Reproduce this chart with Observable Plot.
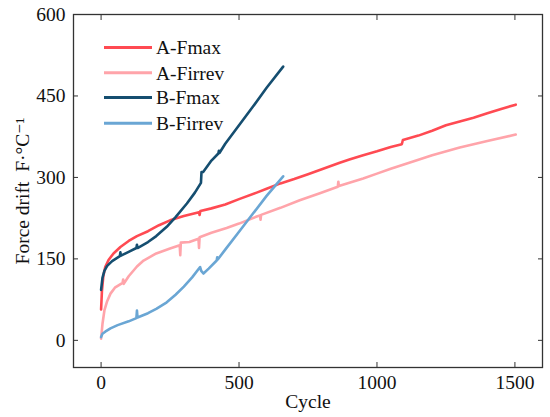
<!DOCTYPE html>
<html>
<head>
<meta charset="utf-8">
<script src="https://cdn.jsdelivr.net/npm/d3@7"></script>
<script src="https://cdn.jsdelivr.net/npm/@observablehq/plot@0.6"></script>
<style>
  html, body { margin: 0; padding: 0; background: #fff; }
  #chart { position: relative; width: 550px; height: 417px; }
  #chart svg text { font-family: "Liberation Serif", Tinos, "Times New Roman", Times, "DejaVu Serif", serif; }
</style>
</head>
<body>
<div id="chart"></div>
<script>
// ---- Data ----
const seriesNames = ["A-Fmax", "A-Firrev", "B-Fmax", "B-Firrev"];
const seriesColors = ["#ff4a52", "#ffa4aa", "#154e70", "#6aa6d4"];

const aFmaxCycle = [0,3,8,15,27,45,70,100,130,170,210,250,300,355,357,360,400,450,500,564,600,650,700,750,800,865,900,950,1000,1050,1090,1094,1150,1200,1250,1300,1350,1400,1450,1503];
const aFmaxValue = [57,90,118,135,148,160,172,183,192,201,212,221,229,236,231,238,243,250,260,272,279,289,297,306,315,327,333,341,348,356,361,369,377,386,396,403,410,418,426,434];

const aFirrevCycle = [0,5,12,22,34,50,78,80,82,100,130,154,200,250,285,287,289,320,353,355,357,400,455,500,564,576,578,580,650,720,793,858,860,862,950,1000,1050,1142,1200,1300,1400,1503];
const aFirrevValue = [3,30,55,72,86,97,106,112,104,118,136,147,160,169,175,157,180,181,187,170,190,198,207,215,228,230,222,231,244,258,271,283,292,284,298,307,316,331,341,355,367,379];

const bFmaxCycle = [0,5,12,22,40,68,70,72,100,128,130,132,170,200,238,270,311,340,362,364,370,400,425,427,429,450,500,550,600,660];
const bFmaxValue = [93,115,128,137,146,155,162,156,163,170,176,170,181,192,209,227,252,272,290,310,310,331,344,349,345,362,396,430,465,504];

const bFirrevCycle = [0,5,15,34,60,100,128,130,132,170,200,238,270,300,330,359,363,371,390,419,421,423,450,500,550,600,660];
const bFirrevValue = [6,12,16,22,28,35,41,55,42,50,58,70,84,99,116,135,128,123,132,147,153,149,167,200,233,266,302];

const xTicks = [0, 500, 1000, 1500];
const yTicks = [0, 150, 300, 450, 600];
const xDomain = [-100, 1600];
const yDomain = [-50, 600];

// ---- Build table ----
const cycles = [aFmaxCycle, aFirrevCycle, bFmaxCycle, bFirrevCycle];
const values = [aFmaxValue, aFirrevValue, bFmaxValue, bFirrevValue];
const rows = [];
seriesNames.forEach((name, i) => {
  cycles[i].forEach((c, j) => rows.push({series: name, cycle: c, value: values[i][j]}));
});

const font = "\"Liberation Serif\", Tinos, \"Times New Roman\", Times, \"DejaVu Serif\", serif";
const axisColor = "#333";

const plot = Plot.plot({
  width: 550,
  height: 417,
  marginLeft: 73,
  marginRight: 8,
  marginTop: 14,
  marginBottom: 50,
  style: {fontFamily: font, fontSize: "19.5px", color: "#111", background: "#fff", overflow: "visible"},
  x: {domain: xDomain},
  y: {domain: yDomain},
  color: {domain: seriesNames, range: seriesColors},
  marks: [
    Plot.line(rows, {x: "cycle", y: "value", z: "series", stroke: "series", strokeWidth: 2.6, strokeLinejoin: "round", strokeLinecap: "round"}),
    Plot.frame({stroke: axisColor, strokeWidth: 1.3}),
    Plot.axisX({ticks: xTicks, tickFormat: d => String(d), tickSize: -5, tickPadding: 13, stroke: axisColor, fill: "#111", label: "Cycle", labelAnchor: "center", labelArrow: "none", labelOffset: 40, fontSize: 19.5}),
    Plot.axisX({anchor: "top", ticks: xTicks, tickSize: -5, tickFormat: () => "", stroke: axisColor, label: null}),
    Plot.axisY({ticks: yTicks, tickFormat: d => String(d), tickSize: -5, tickPadding: 13, stroke: axisColor, fill: "#111", label: "Force drift  F·°C⁻¹", labelAnchor: "center", labelArrow: "none", labelOffset: 58, fontSize: 19.5}),
    Plot.axisY({anchor: "right", ticks: yTicks, tickSize: -5, tickFormat: () => "", stroke: axisColor, label: null})
  ]
});

document.getElementById("chart").appendChild(plot);

// ---- Legend (inside the frame, top-left) ----
const svg = d3.select(plot);
const lg = svg.append("g").attr("class", "legend");
const legendRowY = [47.5, 72.7, 97.5, 123.3];
seriesNames.forEach((name, i) => {
  const y = legendRowY[i];
  lg.append("line").attr("x1", 104).attr("x2", 152).attr("y1", y).attr("y2", y)
    .attr("stroke", seriesColors[i]).attr("stroke-width", 3);
  lg.append("text").attr("x", 156).attr("y", y).attr("dy", "0.35em")
    .attr("text-anchor", "start")
    .attr("font-size", 19.5).attr("fill", "#111").text(name);
});
</script>
</body>
</html>
